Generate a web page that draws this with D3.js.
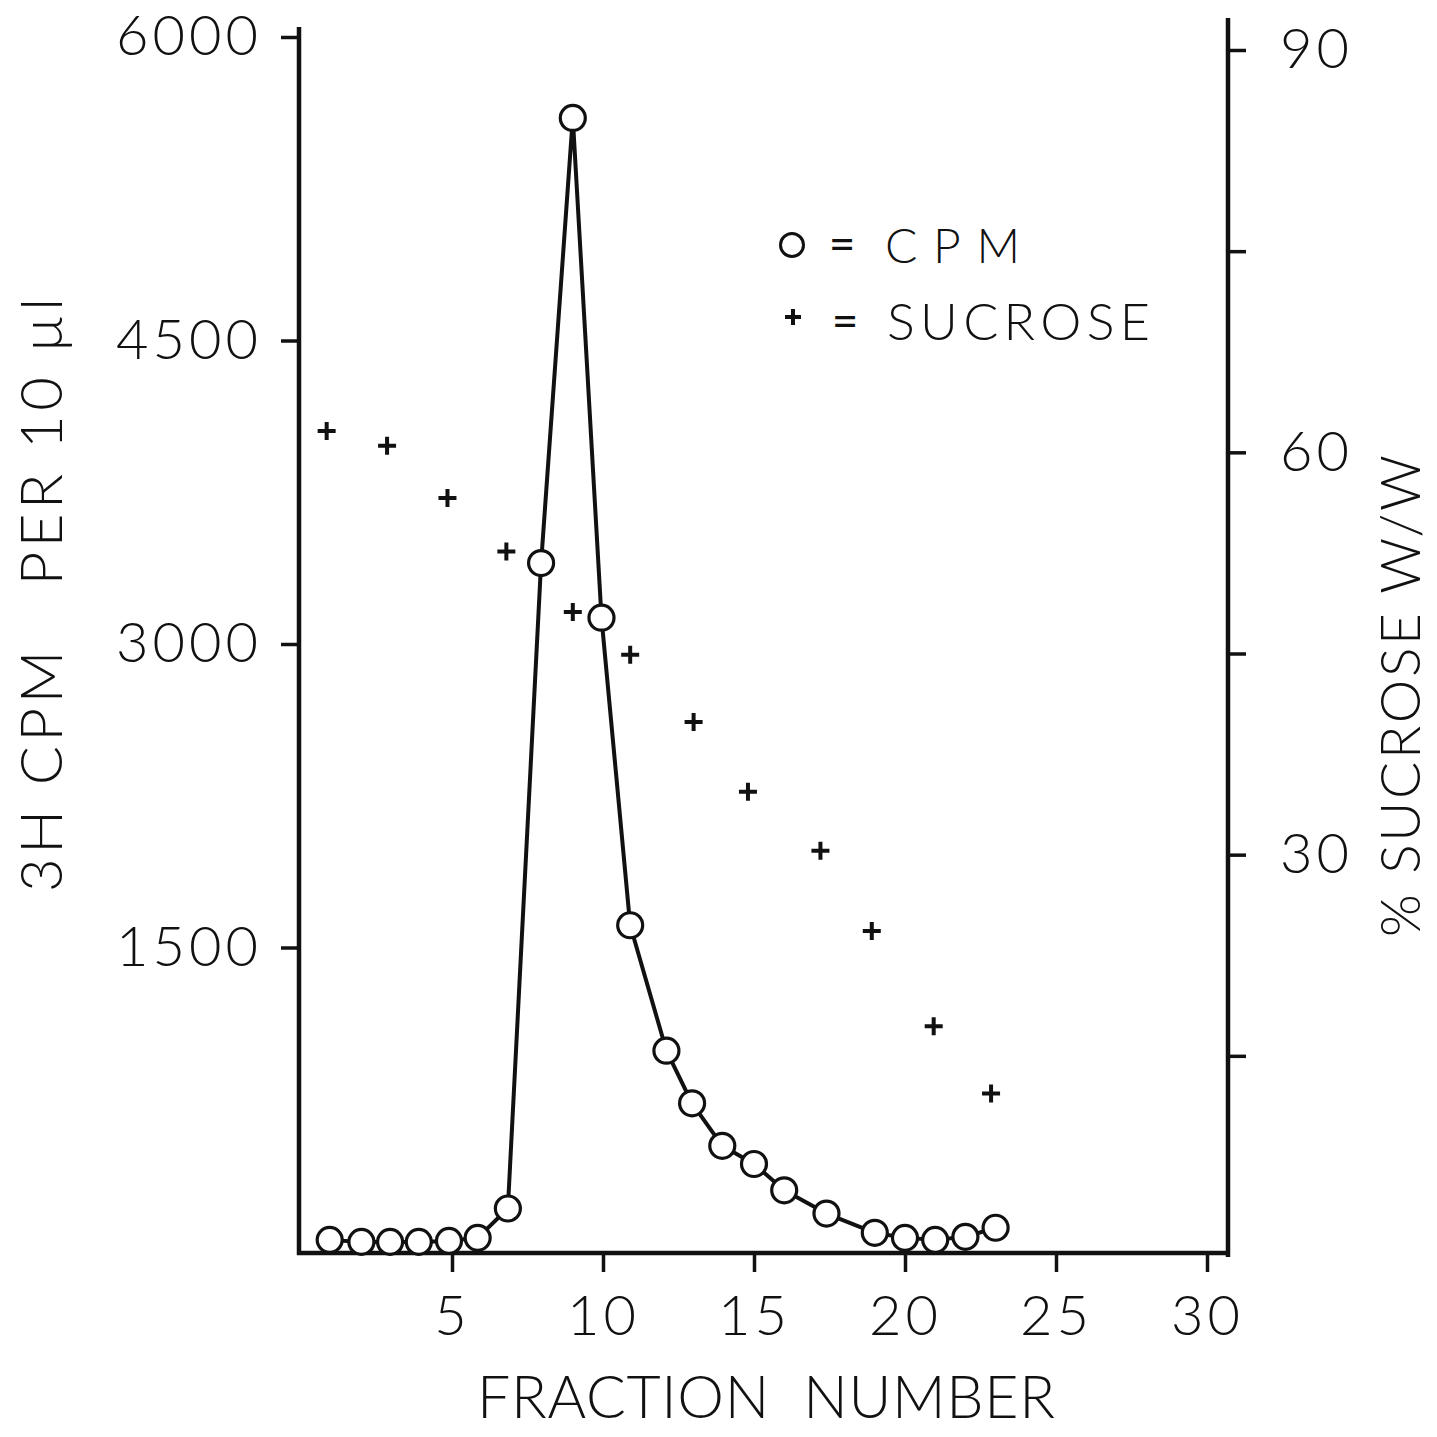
<!DOCTYPE html>
<html>
<head>
<meta charset="utf-8">
<script src="https://cdn.jsdelivr.net/npm/d3@7"></script>
<style>
    html, body { margin: 0; padding: 0; background: #fff; }
    #chart { width: 1437px; height: 1437px; }
    text { font-family: Lato, "DejaVu Sans", sans-serif; font-weight: 300; fill: #111; }
</style>
</head>
<body>
<div id="chart"></div>
<script>
// fraction number / 3H cpm per 10 ul
const cpmFraction = [0.95, 2, 2.95, 3.9, 4.9, 5.85, 6.85, 7.95, 9, 9.95, 10.9, 12.1, 12.95, 13.95, 15, 16, 17.4, 19, 20, 21, 22, 23];
const cpmValue = [55, 45, 45, 45, 50, 65, 210, 3400, 5600, 3130, 1610, 990, 730, 520, 430, 300, 185, 90, 65, 55, 70, 115];

// fraction number / % sucrose w/w
const sucroseFraction = [0.85, 2.85, 4.85, 6.8, 9, 10.9, 13, 14.8, 17.2, 18.9, 20.95, 22.85];
const sucroseValue = [61.6, 60.5, 56.6, 52.6, 48.1, 44.9, 39.9, 34.7, 30.3, 24.3, 17.2, 12.2];

const xTicks = [5, 10, 15, 20, 25, 30];
const leftTicks = [1500, 3000, 4500, 6000];
const rightTicks = [15, 30, 45, 60, 75, 90];
const rightTickLabels = [30, 60, 90];

const legendLabels = ["CPM", "SUCROSE"];
const xTitle = "FRACTION  NUMBER";
const leftTitle = "3H CPM   PER 10 \u00b5l";
const rightTitle = "% SUCROSE W/W";

class FractionChart {
    constructor(el) {
        this.el = el;
        this.cpm = cpmFraction.map((f, i) => ({ f: f, v: cpmValue[i] }));
        this.sucrose = sucroseFraction.map((f, i) => ({ f: f, v: sucroseValue[i] }));
        this.initVis();
    }

    initVis() {
        const vis = this;

        vis.svg = d3
            .select("#" + vis.el)
            .append("svg")
            .attr("width", 1437)
            .attr("height", 1437);

        vis.xScale = d3.scaleLinear().domain([0, 30]).range([301, 1207]);
        vis.yLeft = d3.scaleLinear().domain([0, 6000]).range([1251, 37]);
        vis.yRight = d3.scaleLinear().domain([0, 90]).range([1257, 50]);

        vis.baseY = 1253;
        vis.leftX = 299;
        vis.rightX = 1228;

        vis.drawAxes();
        vis.updateVis();
        vis.drawLegend();
        vis.drawTitles();
    }

    drawAxes() {
        const vis = this;

        const left = vis.svg
            .append("g")
            .attr("transform", `translate(${vis.leftX},0)`)
            .call(
                d3.axisLeft(vis.yLeft)
                    .tickValues(leftTicks)
                    .tickSize(18)
                    .tickPadding(19)
                    .tickFormat(d3.format("d"))
            );

        const right = vis.svg
            .append("g")
            .attr("transform", `translate(${vis.rightX},0)`)
            .call(
                d3.axisRight(vis.yRight)
                    .tickValues(rightTicks)
                    .tickSize(18)
                    .tickPadding(34)
                    .tickFormat((d) => (rightTickLabels.includes(d) ? d : ""))
            );

        const bottom = vis.svg
            .append("g")
            .attr("transform", `translate(0,${vis.baseY})`)
            .call(d3.axisBottom(vis.xScale).tickValues(xTicks).tickSize(19).tickPadding(23));

        [left, right, bottom].forEach((g) => {
            g.select(".domain").remove();
            g.selectAll(".tick line").attr("stroke", "#111").attr("stroke-width", 3.5);
            g.selectAll(".tick text")
                .attr("font-family", null)
                .style("font-size", "56px")
                .style("letter-spacing", "4px")
                .attr("fill", "#111");
        });

        // axis lines
        vis.svg.append("line")
            .attr("x1", vis.leftX).attr("x2", vis.leftX)
            .attr("y1", vis.yLeft(6000) - 10).attr("y2", vis.baseY + 2)
            .attr("stroke", "#111").attr("stroke-width", 4.5);

        vis.svg.append("line")
            .attr("x1", vis.rightX).attr("x2", vis.rightX)
            .attr("y1", vis.yRight(90) - 32).attr("y2", vis.baseY + 4)
            .attr("stroke", "#111").attr("stroke-width", 4.5);

        vis.svg.append("line")
            .attr("x1", vis.leftX - 2).attr("x2", vis.rightX + 2)
            .attr("y1", vis.baseY).attr("y2", vis.baseY)
            .attr("stroke", "#111").attr("stroke-width", 4.5);
    }

    updateVis() {
        const vis = this;

        const line = d3
            .line()
            .x((d) => vis.xScale(d.f))
            .y((d) => vis.yLeft(d.v));

        vis.svg
            .append("path")
            .attr("d", line(vis.cpm))
            .attr("fill", "none")
            .attr("stroke", "#111")
            .attr("stroke-width", 4)
            .attr("stroke-linejoin", "round");

        vis.svg
            .selectAll(".cpm")
            .data(vis.cpm)
            .join("circle")
            .attr("class", "cpm")
            .attr("cx", (d) => vis.xScale(d.f))
            .attr("cy", (d) => vis.yLeft(d.v))
            .attr("r", 12.5)
            .attr("fill", "#fff")
            .attr("stroke", "#111")
            .attr("stroke-width", 3.2);

        vis.svg
            .selectAll(".sucrose")
            .data(vis.sucrose)
            .join("path")
            .attr("class", "sucrose")
            .attr("transform", (d) => `translate(${vis.xScale(d.f)},${vis.yRight(d.v)})`)
            .attr("d", "M-9,0H9M0,-9V9")
            .attr("stroke", "#111")
            .attr("stroke-width", 4);
    }

    drawLegend() {
        const vis = this;
        const g = vis.svg.append("g");

        g.append("circle")
            .attr("cx", 792).attr("cy", 245).attr("r", 11.5)
            .attr("fill", "none").attr("stroke", "#111").attr("stroke-width", 3);
        g.append("path")
            .attr("transform", "translate(793,317)")
            .attr("d", "M-8,0H8M0,-8V8")
            .attr("stroke", "#111").attr("stroke-width", 4);

        [0, 1].forEach((i) => {
            const y = [263, 340][i];
            g.append("text")
                .attr("x", [842, 845][i]).attr("y", y - 3)
                .attr("text-anchor", "middle")
                .style("font-size", "46px")
                .style("font-weight", 400)
                .text("=");
            g.append("text")
                .attr("x", [885, 887][i]).attr("y", y)
                .attr("textLength", [135, 263][i])
                .attr("lengthAdjust", "spacing")
                .style("font-size", ["48px", "52px"][i])
                .text(legendLabels[i]);
        });
    }

    drawTitles() {
        const vis = this;

        vis.svg.append("text")
            .attr("x", 766).attr("y", 1418)
            .attr("text-anchor", "middle")
            .attr("textLength", 578)
            .attr("lengthAdjust", "spacing")
            .style("white-space", "pre")
            .style("font-size", "59px")
            .text(xTitle);

        vis.svg.append("text")
            .attr("transform", "translate(62,595) rotate(-90)")
            .attr("text-anchor", "middle")
            .attr("textLength", 594)
            .attr("lengthAdjust", "spacing")
            .style("white-space", "pre")
            .style("font-size", "58px")
            .text(leftTitle);

        vis.svg.append("text")
            .attr("transform", "translate(1420,696) rotate(-90)")
            .attr("text-anchor", "middle")
            .attr("textLength", 482)
            .attr("lengthAdjust", "spacing")
            .style("white-space", "pre")
            .style("font-size", "55px")
            .text(rightTitle);
    }
}

new FractionChart("chart");
</script>
</body>
</html>
